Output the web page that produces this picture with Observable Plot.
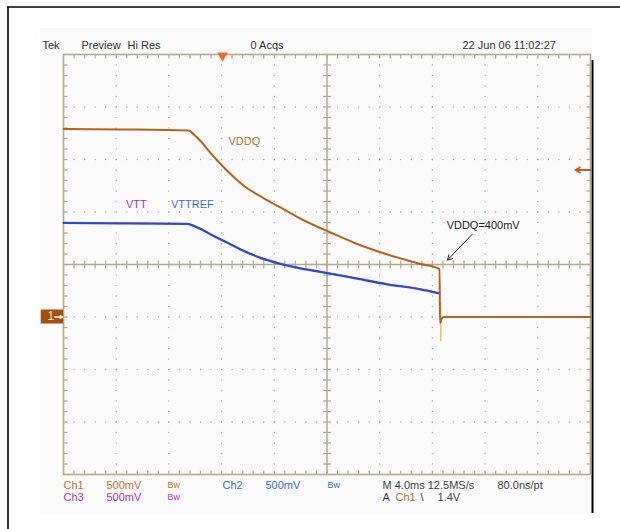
<!DOCTYPE html>
<html><head><meta charset="utf-8">
<script src="https://cdn.jsdelivr.net/npm/d3@7"></script>
<script src="https://cdn.jsdelivr.net/npm/@observablehq/plot@0.6"></script>
<style>html,body{margin:0;padding:0;background:#fff;} svg{display:block}</style>
</head><body><div id="chart"></div>
<script>
// ---- data (time in ms, volts) ----
const vddqTime = [0, 4.33, 9.49, 9.94, 10.40, 11.16, 11.92, 12.68, 13.81, 15.18, 16.47, 17.76, 18.98, 20.27, 22.01, 24.59, 27.10, 28.54, 28.58, 28.70, 28.84, 40];
const vddqVolt = [1.790, 1.786, 1.776, 1.733, 1.676, 1.562, 1.457, 1.362, 1.238, 1.133, 1.043, 0.952, 0.876, 0.805, 0.710, 0.595, 0.505, 0.457, -0.057, -0.02, 0, 0];
const vttTime = [0, 4.33, 9.41, 9.79, 10.40, 11.39, 12.45, 13.43, 14.95, 16.47, 17.99, 19.51, 22.01, 24.59, 27.10, 28.54];
const vttVolt = [0.895, 0.890, 0.886, 0.871, 0.838, 0.771, 0.705, 0.643, 0.562, 0.505, 0.462, 0.429, 0.371, 0.310, 0.262, 0.224];
const vttrefTime = [0, 4.33, 9.41, 9.79, 10.40, 11.39, 12.45, 13.43, 14.95, 16.47, 17.99, 19.51, 22.01, 24.59, 27.10, 28.54];
const vttrefVolt = [0.895, 0.890, 0.886, 0.871, 0.838, 0.771, 0.705, 0.643, 0.562, 0.505, 0.462, 0.429, 0.371, 0.310, 0.262, 0.224];
const spikeTime = [28.64];
const spikeTop = [0.13];
const spikeBottom = [-0.23];
const triggerTime = [12.07];
const triggerLevel = [1.4];
const groundLevel = [0];
const headerLabels = ["Tek", "Preview", "Hi Res", "0 Acqs", "22 Jun 06 11:02:27"];
const footerRow1 = ["Ch1", "500mV", "Bw", "Ch2", "500mV", "Bw", "M 4.0ms 12.5MS/s", "80.0ns/pt"];
const footerRow2 = ["Ch3", "500mV", "Bw", "A", "Ch1", "\\", "1.4V"];

// ---- layout ----
const ML = 63, MT = 54, PW = 527, PH = 420;
const msPerPx = 40 / PW, vPerPx = 4 / PH;
const grat = "#b3ab8b", dotc = "#aba385";
const cOrange = "#b4631a", cOrangeTxt = "#b8732e", cBlue = "#1f4fd0", cBlueTxt = "#3a6fc8", cMag = "#c03cc0", cMagTxt = "#b030b0";

const vddq = vddqTime.map((t, i) => ({t, v: vddqVolt[i]}));
const vtt = vttTime.map((t, i) => ({t, v: vttVolt[i]}));
const vttref = vttrefTime.map((t, i) => ({t, v: vttrefVolt[i]}));
const spikes = spikeTime.map((t, i) => ({t, a: spikeTop[i], b: spikeBottom[i]}));

// graticule helpers
const minorX = d3.range(0, 51).map(i => i * 0.8);
const minorY = d3.range(0, 41).map(i => -1.5 + i * 0.1);
const majorX = d3.range(1, 10).filter(i => i !== 5).map(i => i * 4);
const majorY = d3.range(1, 8).filter(i => i !== 4).map(i => -1.5 + i * 0.5);
const gridDots = [];
for (const x of majorX) for (const y of minorY.slice(1, -1)) gridDots.push({x, y});
for (const y of majorY) for (const x of minorX.slice(1, -1)) gridDots.push({x, y});
const tk = 4;
const tickV = [];
for (const x of minorX.slice(1, -1)) {
  tickV.push({x, y1: 2.5, y2: 2.5 - tk * vPerPx});
  tickV.push({x, y1: -1.5, y2: -1.5 + tk * vPerPx});
  tickV.push({x, y1: 0.5 - tk * vPerPx, y2: 0.5 + tk * vPerPx});
}
const tickH = [];
for (const y of minorY.slice(1, -1)) {
  tickH.push({y, x1: 0, x2: tk * msPerPx});
  tickH.push({y, x1: 40, x2: 40 - tk * msPerPx});
  tickH.push({y, x1: 20 - tk * msPerPx, x2: 20 + tk * msPerPx});
}

const FONT = "'Liberation Sans', Arial, sans-serif";
const lab = (s, px, py, fill, size = 11, extra = {}) => Plot.text([s], {
  text: d => d, frameAnchor: "top-left", dx: px - ML, dy: py - MT,
  textAnchor: "start", lineAnchor: "middle", fill, fontSize: size, ...extra
});

const hx = [42, 81, 127, 250, 462];
const r1x = [63, 106, 167, 222, 265, 327, 382, 497];
const r1c = [cOrangeTxt, cOrangeTxt, cOrangeTxt, cBlueTxt, cBlueTxt, cBlueTxt, "#444", "#444"];
const r2x = [63, 106, 167, 382, 395, 420, 437];
const r2c = [cMagTxt, cMagTxt, cMagTxt, "#444", cOrangeTxt, "#444", "#444"];

const marks = [
  // graticule
  Plot.dot(gridDots, {x: "x", y: "y", r: 0.65, fill: dotc, stroke: null}),
  Plot.ruleX([20], {stroke: grat, strokeWidth: 1.5}),
  Plot.ruleY([0.5], {stroke: grat, strokeWidth: 1.5}),
  Plot.link(tickV, {x1: "x", x2: "x", y1: "y1", y2: "y2", stroke: grat, strokeWidth: 1.2}),
  Plot.link(tickH, {y1: "y", y2: "y", x1: "x1", x2: "x2", stroke: grat, strokeWidth: 1.2}),
  Plot.frame({stroke: grat, strokeWidth: 1.6}),
  // traces
  Plot.line(vtt, {x: "t", y: "v", stroke: cMag, strokeWidth: 1.4, dy: -0.6, curve: "monotone-x"}),
  Plot.line(vttref, {x: "t", y: "v", stroke: cBlue, strokeWidth: 2, curve: "monotone-x"}),
  Plot.link(spikes, {x1: "t", x2: "t", y1: "a", y2: "b", stroke: "#e8c030", strokeWidth: 1.3}),
  Plot.line(vddq, {x: "t", y: "v", stroke: cOrange, strokeWidth: 2, curve: "monotone-x"}),
  // markers
  Plot.dot(triggerTime, {x: d => d, y: () => 2.5, symbol: "triangle", rotate: 180, r: 4, fill: "#f26a2a", stroke: null, dy: 1}),
  Plot.arrow(triggerLevel, {x1: () => 40, x2: () => 40 - 15 * msPerPx, y1: d => d, y2: d => d, stroke: "#c0601a", strokeWidth: 2, headLength: 6}),
  Plot.rect(groundLevel, {x1: () => -22.3 * msPerPx, x2: () => 0, y1: d => d - 7 * vPerPx, y2: d => d + 7 * vPerPx, fill: "#a34f0f"}),
  lab("1", 47, 316, "#f3dcc4", 12),
  Plot.arrow(groundLevel, {x1: () => -9 * msPerPx, x2: () => -1 * msPerPx, y1: d => d, y2: d => d, stroke: "#ffffff", strokeWidth: 1.3, headLength: 4}),
  // annotations
  Plot.text(["VDDQ"], {x: () => 12.52, y: () => 1.676, text: d => d, textAnchor: "start", fill: cOrangeTxt, fontSize: 11}),
  Plot.text(["VTT"], {x: () => 4.74, y: () => 1.067, text: d => d, textAnchor: "start", fill: cMagTxt, fontSize: 11}),
  Plot.text(["VTTREF"], {x: () => 8.16, y: () => 1.067, text: d => d, textAnchor: "start", fill: cBlueTxt, fontSize: 11}),
  Plot.text(["VDDQ=400mV"], {x: () => 29.08, y: () => 0.876, text: d => d, textAnchor: "start", fill: "#222", fontSize: 11}),
  Plot.arrow([0], {x1: () => 31.04, y1: () => 0.79, x2: () => 29.15, y2: () => 0.543, stroke: "#222", strokeWidth: 1, headLength: 8}),
  // header & footer
  ...headerLabels.map((s, i) => lab(s, hx[i], 45, "#333")),
  ...footerRow1.map((s, i) => lab(s, r1x[i], 485, r1c[i], s === "Bw" ? 9 : 11)),
  ...footerRow2.map((s, i) => lab(s, r2x[i], 497, r2c[i], s === "Bw" ? 9 : 11))
];

const chart = Plot.plot({
  width: 620, height: 529,
  marginLeft: ML, marginTop: MT, marginRight: 620 - ML - PW, marginBottom: 529 - MT - PH,
  x: {domain: [0, 40], axis: null},
  y: {domain: [-1.5, 2.5], axis: null},
  style: {fontFamily: FONT, fontSize: "11px", background: "transparent", overflow: "visible"},
  marks
});
const svg = d3.select(chart);
const bg = svg.insert("g", ":first-child");
bg.append("rect").attr("x", 40).attr("y", 28).attr("width", 552).attr("height", 485).attr("fill", "#fafafa");
bg.append("line").attr("x1", 7).attr("x2", 620).attr("y1", 7).attr("y2", 7).attr("stroke", "#000").attr("stroke-width", 1.6);
bg.append("line").attr("x1", 8).attr("x2", 8).attr("y1", 7).attr("y2", 529).attr("stroke", "#000").attr("stroke-width", 1.6);
bg.append("line").attr("x1", 592.5).attr("x2", 592.5).attr("y1", 60).attr("y2", 513).attr("stroke", "#000").attr("stroke-width", 2);
document.getElementById("chart").appendChild(chart);
</script>
</body></html>
